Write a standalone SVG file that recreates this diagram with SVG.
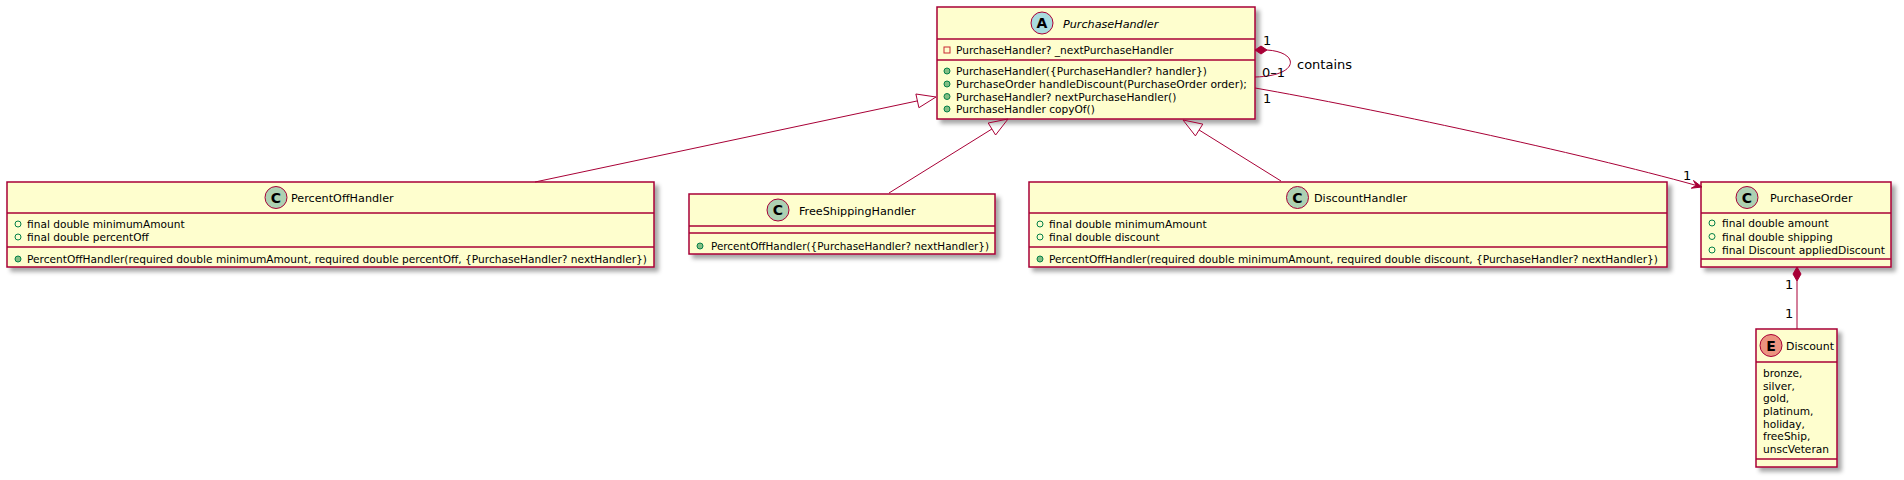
<svg xmlns="http://www.w3.org/2000/svg" width="1904" height="480" viewBox="0 0 1904 480">
<defs>
<filter id="sh" x="-10%" y="-10%" width="130%" height="140%">
<feGaussianBlur in="SourceAlpha" stdDeviation="2"/>
<feOffset dx="4" dy="4" result="b"/>
<feFlood flood-color="#000" flood-opacity="0.35"/>
<feComposite in2="b" operator="in"/>
<feMerge><feMergeNode/><feMergeNode in="SourceGraphic"/></feMerge>
</filter>
<style>
.box{fill:#FEFECE;stroke:#A80036;stroke-width:1.5;}
.sep{stroke:#A80036;stroke-width:1.5;}
.ttl{font-family:"DejaVu Sans",sans-serif;font-size:11.2px;fill:#000;}
.it{font-style:italic;}
.m{font-family:"DejaVu Sans",sans-serif;font-size:10.6px;fill:#000;}
.lbl{font-family:"DejaVu Sans",sans-serif;font-size:13px;fill:#000;}
.ic{stroke:#A80036;stroke-width:1;}
.icl{font-family:"DejaVu Sans",sans-serif;font-size:14px;font-weight:bold;fill:#000;text-anchor:middle;}
.pf{fill:none;stroke:#038048;stroke-width:1;}
.pm{fill:#84BE84;stroke:#038048;stroke-width:1;}
.pr{fill:none;stroke:#C82930;stroke-width:1;}
.ln{fill:none;stroke:#A80036;stroke-width:1;}
.tri{fill:none;stroke:#A80036;stroke-width:1;}
.fl{fill:#A80036;stroke:#A80036;stroke-width:1;}
</style>
</defs>
<rect width="1904" height="480" fill="#FFFFFF"/>

<g id="PurchaseHandler">
<rect class="box" x="937" y="7" width="318" height="112" filter="url(#sh)"/>
<circle cx="1042" cy="23" r="11" fill="#A9DCDF" class="ic"/>
<text class="icl" x="1042" y="28">A</text>
<text class="ttl it" x="1063" y="27.5">PurchaseHandler</text>
<line class="sep" x1="937" y1="39" x2="1255" y2="39"/>
<rect class="pr" x="944" y="47" width="6" height="6"/>
<text class="m" x="956" y="54">PurchaseHandler? _nextPurchaseHandler</text>
<line class="sep" x1="937" y1="60" x2="1255" y2="60"/>
<circle class="pm" cx="947" cy="71" r="3"/>
<text class="m" x="956" y="75">PurchaseHandler({PurchaseHandler? handler})</text>
<circle class="pm" cx="947" cy="84" r="3"/>
<text class="m" x="956" y="88" textLength="291" lengthAdjust="spacingAndGlyphs">PurchaseOrder handleDiscount(PurchaseOrder order);</text>
<circle class="pm" cx="947" cy="96.5" r="3"/>
<text class="m" x="956" y="100.5">PurchaseHandler? nextPurchaseHandler()</text>
<circle class="pm" cx="947" cy="109" r="3"/>
<text class="m" x="956" y="113">PurchaseHandler copyOf()</text>
</g>

<g id="PercentOffHandler">
<rect class="box" x="7" y="182" width="647" height="85" filter="url(#sh)"/>
<circle cx="276" cy="197.5" r="11" fill="#ADD1B2" class="ic"/>
<text class="icl" x="276" y="202.5">C</text>
<text class="ttl" x="291" y="202">PercentOffHandler</text>
<line class="sep" x1="7" y1="213" x2="654" y2="213"/>
<circle class="pf" cx="18" cy="224" r="3"/>
<text class="m" x="27" y="228">final double minimumAmount</text>
<circle class="pf" cx="18" cy="237" r="3"/>
<text class="m" x="27" y="241">final double percentOff</text>
<line class="sep" x1="7" y1="247" x2="654" y2="247"/>
<circle class="pm" cx="18" cy="259" r="3"/>
<text class="m" x="27" y="263" textLength="620" lengthAdjust="spacingAndGlyphs">PercentOffHandler(required double minimumAmount, required double percentOff, {PurchaseHandler? nextHandler})</text>
</g>

<g id="FreeShippingHandler">
<rect class="box" x="689" y="194" width="306" height="60" filter="url(#sh)"/>
<circle cx="778" cy="210" r="11" fill="#ADD1B2" class="ic"/>
<text class="icl" x="778" y="215">C</text>
<text class="ttl" x="799" y="214.5">FreeShippingHandler</text>
<line class="sep" x1="689" y1="226" x2="995" y2="226"/>
<line class="sep" x1="689" y1="233" x2="995" y2="233"/>
<circle class="pm" cx="700" cy="246" r="3"/>
<text class="m" x="711" y="250" textLength="278" lengthAdjust="spacingAndGlyphs">PercentOffHandler({PurchaseHandler? nextHandler})</text>
</g>

<g id="DiscountHandler">
<rect class="box" x="1029" y="182" width="638" height="85" filter="url(#sh)"/>
<circle cx="1297.5" cy="197.5" r="11" fill="#ADD1B2" class="ic"/>
<text class="icl" x="1297.5" y="202.5">C</text>
<text class="ttl" x="1314" y="202">DiscountHandler</text>
<line class="sep" x1="1029" y1="213" x2="1667" y2="213"/>
<circle class="pf" cx="1040" cy="224" r="3"/>
<text class="m" x="1049" y="228">final double minimumAmount</text>
<circle class="pf" cx="1040" cy="237" r="3"/>
<text class="m" x="1049" y="241">final double discount</text>
<line class="sep" x1="1029" y1="247" x2="1667" y2="247"/>
<circle class="pm" cx="1040" cy="259" r="3"/>
<text class="m" x="1049" y="263" textLength="609" lengthAdjust="spacingAndGlyphs">PercentOffHandler(required double minimumAmount, required double discount, {PurchaseHandler? nextHandler})</text>
</g>

<g id="PurchaseOrder">
<rect class="box" x="1701" y="182" width="190" height="85" filter="url(#sh)"/>
<circle cx="1747" cy="197.5" r="11" fill="#ADD1B2" class="ic"/>
<text class="icl" x="1747" y="202.5">C</text>
<text class="ttl" x="1770" y="202">PurchaseOrder</text>
<line class="sep" x1="1701" y1="213" x2="1891" y2="213"/>
<circle class="pf" cx="1712" cy="223" r="3"/>
<text class="m" x="1722" y="227">final double amount</text>
<circle class="pf" cx="1712" cy="236.5" r="3"/>
<text class="m" x="1722" y="240.5">final double shipping</text>
<circle class="pf" cx="1712" cy="250" r="3"/>
<text class="m" x="1722" y="254" textLength="163" lengthAdjust="spacingAndGlyphs">final Discount appliedDiscount</text>
<line class="sep" x1="1701" y1="259" x2="1891" y2="259"/>
</g>

<g id="Discount">
<rect class="box" x="1756" y="329" width="81" height="138" filter="url(#sh)"/>
<circle cx="1771" cy="345.5" r="11" fill="#EB937F" class="ic"/>
<text class="icl" x="1771" y="350.5">E</text>
<text class="ttl" x="1786" y="350" textLength="48" lengthAdjust="spacingAndGlyphs">Discount</text>
<line class="sep" x1="1756" y1="362" x2="1837" y2="362"/>
<text class="m" x="1763" y="377">bronze,</text>
<text class="m" x="1763" y="389.7">silver,</text>
<text class="m" x="1763" y="402.3">gold,</text>
<text class="m" x="1763" y="415">platinum,</text>
<text class="m" x="1763" y="427.7">holiday,</text>
<text class="m" x="1763" y="440.3">freeShip,</text>
<text class="m" x="1763" y="453">unscVeteran</text>
<line class="sep" x1="1756" y1="459" x2="1837" y2="459"/>
</g>

<g id="connectors">
<line class="ln" x1="535" y1="182" x2="917.4" y2="100.9"/>
<polygon class="tri" points="936,97 918.9,107.7 915.9,94"/>
<line class="ln" x1="889" y1="193" x2="991.9" y2="129"/>
<polygon class="tri" points="1008,119 995.6,135 988.2,123"/>
<line class="ln" x1="1281" y1="181" x2="1199.1" y2="130"/>
<polygon class="tri" points="1183,120 1202.8,124.1 1195.4,135.9"/>
<path class="ln" d="M1267,50 C1300,52 1300,76 1255,77"/>
<polygon class="fl" points="1255,50 1261,46 1267,50 1261,54"/>
<text class="lbl" x="1263" y="45">1</text>
<text class="lbl" x="1262" y="77">0–1</text>
<text class="lbl" x="1297" y="68.5">contains</text>
<path class="ln" d="M1255,88 C1370,108 1580,153 1696.2,185.4"/>
<polygon class="fl" points="1702,187 1691.3,188.2 1696.2,185.4 1693.5,180.5"/>
<text class="lbl" x="1263" y="103">1</text>
<text class="lbl" x="1683" y="180">1</text>
<line class="ln" x1="1797" y1="281" x2="1797" y2="329"/>
<polygon class="fl" points="1797,267 1801,274 1797,281 1793,274"/>
<text class="lbl" x="1785" y="289">1</text>
<text class="lbl" x="1785" y="318">1</text>
</g>
</svg>
